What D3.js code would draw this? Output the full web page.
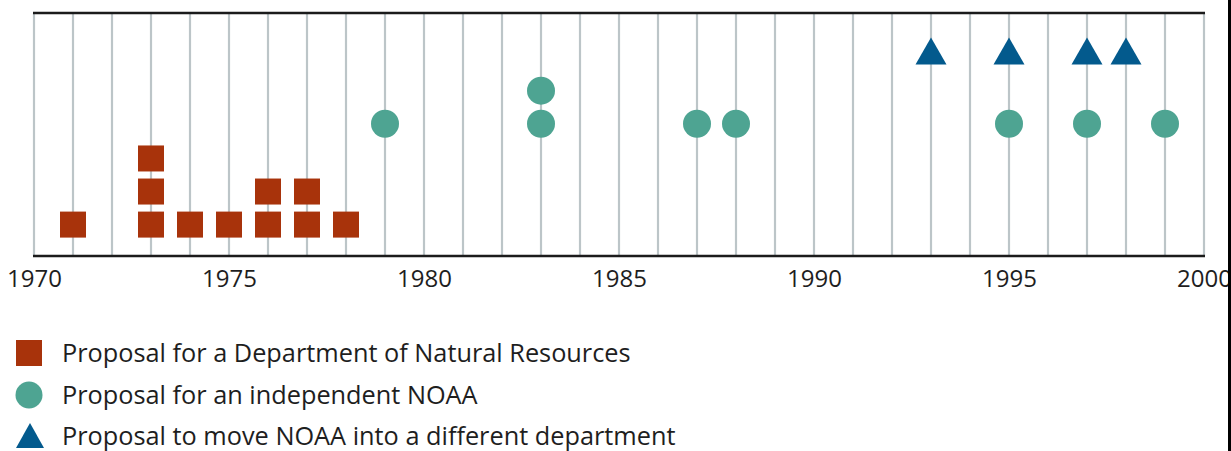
<!DOCTYPE html>
<html>
<head>
<meta charset="utf-8">
<script src="https://cdn.jsdelivr.net/npm/d3@7"></script>
<style>
  body { margin: 0; background: #fff; }
  svg { display: block; font-family: "Open Sans", sans-serif; }
</style>
</head>
<body>
<svg id="chart" width="1231" height="451"></svg>
<script>
// proposals per year, one entry per proposal (repeats stack up)
const dnrYears = [1971, 1973, 1973, 1973, 1974, 1975, 1976, 1976, 1977, 1977, 1978];
const independentYears = [1979, 1983, 1983, 1987, 1988, 1995, 1997, 1999];
const moveYears = [1993, 1995, 1997, 1998];
const tickYears = [1970, 1975, 1980, 1985, 1990, 1995, 2000];
const legendLabels = [
  "Proposal for a Department of Natural Resources",
  "Proposal for an independent NOAA",
  "Proposal to move NOAA into a different department"
];

const colors = { dnr: "#a8330b", indep: "#4ea492", move: "#035a8d" };

const svg = d3.select("#chart");
const plotLeft = 34, plotRight = 1204, plotTop = 13, plotBottom = 256;

const x = d3.scaleLinear().domain([1970, 2000]).range([plotLeft, plotRight]);
// vertical position in "stack units"
const y = d3.scaleLinear().domain([0, 7.35]).range([plotBottom, plotTop]);

// stack index for repeated years
function stack(years) {
  const seen = {};
  return years.map(yr => {
    const k = seen[yr] || 0;
    seen[yr] = k + 1;
    return { year: yr, level: k };
  });
}

// year gridlines
svg.append("g")
  .selectAll("line")
  .data(d3.range(1970, 2001))
  .join("line")
  .attr("x1", d => x(d)).attr("x2", d => x(d))
  .attr("y1", plotTop).attr("y2", plotBottom)
  .attr("stroke", "#bcc5c8")
  .attr("stroke-width", 2.2);

// top and bottom rules
svg.append("g")
  .selectAll("line")
  .data([plotTop, plotBottom])
  .join("line")
  .attr("x1", plotLeft - 1).attr("x2", plotRight + 1)
  .attr("y1", d => d).attr("y2", d => d)
  .attr("stroke", "#1b1b1b")
  .attr("stroke-width", 2.5);

// axis labels
const axis = svg.append("g")
  .attr("transform", `translate(0,${plotBottom})`)
  .call(d3.axisBottom(x).tickValues(tickYears).tickFormat(d3.format("d")).tickSize(0).tickPadding(14));
axis.select(".domain").remove();
axis.selectAll("text")
  .attr("font-size", 24)
  .attr("font-family", "Open Sans, sans-serif")
  .attr("fill", "#1e1e1e");

const sq = 26, r = 14, triW = 31, triH = 27;

// department of natural resources: squares
svg.append("g")
  .selectAll("rect")
  .data(stack(dnrYears))
  .join("rect")
  .attr("x", d => x(d.year) - sq / 2)
  .attr("y", d => y(0.95 + d.level) - sq / 2)
  .attr("width", sq).attr("height", sq)
  .attr("fill", colors.dnr);

// independent NOAA: circles
svg.append("g")
  .selectAll("circle")
  .data(stack(independentYears))
  .join("circle")
  .attr("cx", d => x(d.year))
  .attr("cy", d => y(4.0 + d.level))
  .attr("r", r)
  .attr("fill", colors.indep);

// move NOAA: triangles
const tri = (cx, cy) => `M${cx},${cy - triH / 2}L${cx + triW / 2},${cy + triH / 2}L${cx - triW / 2},${cy + triH / 2}Z`;
svg.append("g")
  .selectAll("path")
  .data(stack(moveYears))
  .join("path")
  .attr("d", d => tri(x(d.year), y(6.2 + d.level)))
  .attr("fill", colors.move);

// legend
const legend = svg.append("g");
const rows = [353, 395, 436];
legend.append("rect").attr("x", 16).attr("y", rows[0] - 13).attr("width", 26).attr("height", 26).attr("fill", colors.dnr);
legend.append("circle").attr("cx", 29).attr("cy", rows[1]).attr("r", 13.5).attr("fill", colors.indep);
legend.append("path").attr("d", `M30,${rows[2] - 13}L44,${rows[2] + 12}L16,${rows[2] + 12}Z`).attr("fill", colors.move);
legend.selectAll("text")
  .data(legendLabels)
  .join("text")
  .attr("x", 62)
  .attr("y", (d, i) => rows[i] + 9)
  .attr("font-size", 25.3)
  .attr("fill", "#1e1e1e")
  .text(d => d);

// dark frame edge on the right
svg.append("rect").attr("x", 1228).attr("y", 0).attr("width", 3).attr("height", 451).attr("fill", "#000");
</script>
</body>
</html>
